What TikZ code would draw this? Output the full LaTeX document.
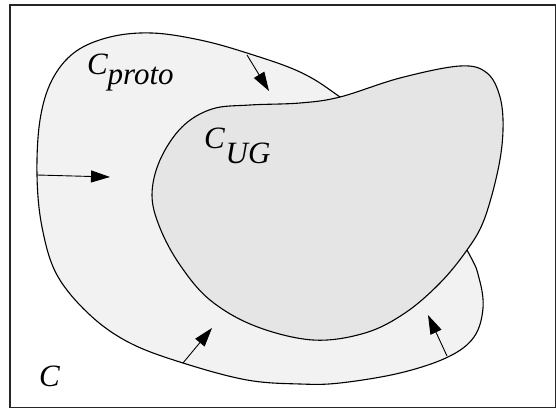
\documentclass[tikz,border=0pt]{standalone}
\usepackage{fontspec}
\setmainfont{Liberation Serif}
\usetikzlibrary{arrows.meta}
\definecolor{outerfill}{gray}{0.95}
\definecolor{innerfill}{gray}{0.90}
\tikzset{
  region/.style={draw=black, line width=1.1pt, line join=round},
  inarrow/.style={draw=black, line width=0.9pt, -{Triangle[length=19pt,width=12pt]}},
  lab/.style={inner sep=0pt, outer sep=0pt, font=\fontsize{31}{34}\selectfont\itshape, anchor=base west},
  frame/.style={draw=black!85, line width=1.6pt}
}
\begin{document}
\begin{tikzpicture}[x=1pt,y=-1pt]
\useasboundingbox (0,0) rectangle (556,409);
\fill[white] (0,0) rectangle (556,409);
\draw[frame] (9.8,4.8) rectangle (556,407.5);
% outer region C_proto
\path[region, fill=outerfill] plot[smooth cycle, tension=0.6] coordinates {
 (37,175) (40,120) (52,80) (75,52) (110,37) (152,33) (200,40) (247,53) (300,72) (340,97)
 (410,150) (467,250) (479,278) (483,308) (474,337) (448,357) (400,373) (340,383) (300,384)
 (247,380) (183,363) (130,343) (90,315) (57,275) (42,227)};
% inner region C_UG
\path[region, fill=innerfill] plot[smooth cycle, tension=0.6] coordinates {
 (340,97) (400,78) (460,66) (487,73) (500,97) (503,130) (498,170) (484,220) (467,250)
 (440,283) (405,313) (365,333) (313,340) (255,326) (210,300) (180,265) (160,228) (152,195)
 (160,160) (182,127) (212,109) (250,105) (300,103)};
% arrows
\coordinate (a1s) at (37,175);  \coordinate (a1e) at (110,177);
\coordinate (a2s) at (247,55);  \coordinate (a2e) at (269,91);
\coordinate (a3s) at (183,363); \coordinate (a3e) at (212,328);
\coordinate (a4s) at (447,356); \coordinate (a4e) at (428,315);
\draw[inarrow] (a1s) -- (a1e);
\draw[inarrow] (a2s) -- (a2e);
\draw[inarrow] (a3s) -- (a3e);
\draw[inarrow] (a4s) -- (a4e);
% labels
\node[lab] (cproto) at (87,75) {C\raisebox{-10pt}{proto}};
\node[lab] (cug) at (204,148) {C\kern1pt\raisebox{-15pt}{UG}};
\node[lab] (c) at (39,386) {C};
\end{tikzpicture}
\end{document}
